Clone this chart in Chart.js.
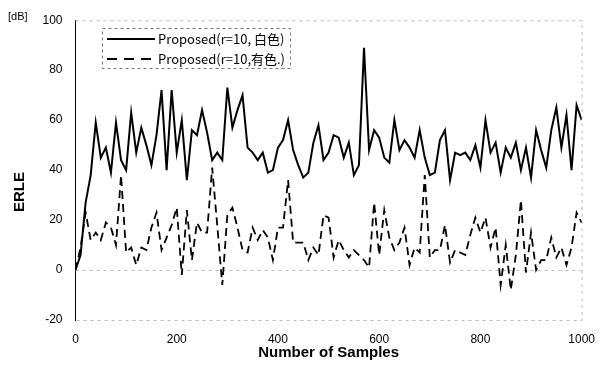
<!DOCTYPE html>
<html>
<head>
<meta charset="utf-8">
<script src="https://cdn.jsdelivr.net/npm/chart.js@4.4.1/dist/chart.umd.min.js"></script>
<style>
  body { margin: 0; background: #fff; }
  .wrap { width: 607px; height: 371px; }
</style>
</head>
<body>
<div class="wrap"><canvas id="erle"></canvas></div>
<script>
const samples = [0, 10, 20, 30, 40, 50, 60, 70, 80, 90,
  100, 110, 120, 130, 140, 150, 160, 170, 180, 190,
  200, 210, 220, 230, 240, 250, 260, 270, 280, 290,
  300, 310, 320, 330, 340, 350, 360, 370, 380, 390,
  400, 410, 420, 430, 440, 450, 460, 470, 480, 490,
  500, 510, 520, 530, 540, 550, 560, 570, 580, 590,
  600, 610, 620, 630, 640, 650, 660, 670, 680, 690,
  700, 710, 720, 730, 740, 750, 760, 770, 780, 790,
  800, 810, 820, 830, 840, 850, 860, 870, 880, 890,
  900, 910, 920, 930, 940, 950, 960, 970, 980, 990,
  1000];

const whiteNoise = [0, 6, 27, 38, 59, 45, 49, 39, 59, 44,
  40, 63, 47, 57, 50, 42, 54, 72, 40, 72,
  47, 60, 36, 56, 54, 64, 55, 44, 47, 44,
  73, 57, 64, 70, 49, 47, 44, 47, 39, 40,
  49, 52, 60, 48, 42, 37, 39, 51, 58, 44,
  47, 54, 53, 45, 51, 38, 42, 89, 48, 56,
  53, 45, 43, 60, 48, 52, 49, 45, 56, 45,
  38, 39, 52, 56, 36, 47, 46, 47, 44, 50,
  41, 60, 47, 51, 39, 49, 45, 51, 40, 49,
  37, 56, 48, 41, 56, 65, 49, 62, 40, 66,
  60];

const colouredNoise = [0, 9, 23, 12, 15, 12, 19, 17, 10, 38,
  7, 9, 2, 9, 8, 17, 23, 8, 13, 18,
  25, -2, 24, 4, 19, 15, 15, 41, 18, -6,
  22, 25, 17, 8, 7, 17, 12, 16, 13, 4,
  17, 17, 36, 11, 11, 11, 4, 9, 6, 22,
  21, 5, 12, 8, 5, 8, 6, 4, 1, 27,
  6, 24, 13, 8, 11, 17, 2, 9, 7, 38,
  5, 8, 8, 18, 3, 8, 7, 6, 14, 21,
  15, 21, 9, 17, -6, 10, -8, 6, 28, -1,
  15, 0, 4, 4, 13, 5, 9, 2, 9, 23,
  19];

const seriesNames = ['Proposed(r=10, 白色)', 'Proposed(r=10,有色.)'];
const xTicks = [0, 200, 400, 600, 800, 1000];
const yTicks = [-20, 0, 20, 40, 60, 80, 100];

function toPoints(values) {
  const pts = [];
  for (let i = 0; i < values.length; i++) {
    pts.push({ x: samples[i], y: values[i] });
  }
  return pts;
}

// kader, nul-lijn, legenda en losse teksten
const extras = {
  id: 'extras',
  beforeDatasetsDraw(chart) {
    const ctx = chart.ctx;
    const a = chart.chartArea;
    const y0 = chart.scales.y.getPixelForValue(0);
    ctx.save();
    ctx.strokeStyle = '#bdbdbd';
    ctx.lineWidth = 1;
    ctx.setLineDash([3, 4]);
    ctx.beginPath();
    ctx.moveTo(a.left, Math.round(y0) + 0.5);
    ctx.lineTo(a.right, Math.round(y0) + 0.5);
    ctx.moveTo(a.left, a.top + 0.5);
    ctx.lineTo(a.right + 0.5, a.top + 0.5);
    ctx.lineTo(a.right + 0.5, a.bottom + 0.5);
    ctx.lineTo(a.left, a.bottom + 0.5);
    ctx.stroke();
    ctx.restore();
  },
  afterDraw(chart) {
    const ctx = chart.ctx;
    ctx.save();
    // [dB]
    ctx.fillStyle = '#000';
    ctx.font = '11px "Liberation Sans", sans-serif';
    ctx.textAlign = 'left';
    ctx.textBaseline = 'middle';
    ctx.fillText('[dB]', 8, 17);
    // ERLE
    ctx.font = 'bold 15px "Liberation Sans", sans-serif';
    ctx.translate(20, 192);
    ctx.rotate(-Math.PI / 2);
    ctx.textAlign = 'center';
    ctx.fillText('ERLE', 0, 0);
    ctx.restore();

    // legenda
    ctx.save();
    ctx.fillStyle = '#fff';
    ctx.fillRect(102, 28, 188, 40);
    ctx.strokeStyle = '#777';
    ctx.lineWidth = 1;
    ctx.setLineDash([3, 3]);
    ctx.strokeRect(102.5, 28.5, 188, 40);
    const rows = [39, 59];
    chart.data.datasets.forEach((ds, i) => {
      ctx.strokeStyle = '#000';
      ctx.lineWidth = 2;
      ctx.setLineDash(i == 1 ? [10, 7] : []);
      ctx.beginPath();
      ctx.moveTo(107, rows[i]);
      ctx.lineTo(155, rows[i]);
      ctx.stroke();
      ctx.fillStyle = '#000';
      ctx.font = '13px "Noto Sans CJK JP", sans-serif';
      ctx.textAlign = 'left';
      ctx.textBaseline = 'middle';
      ctx.fillText(ds.label, 158, rows[i]);
    });
    ctx.restore();
  }
};

const erleChart = document.querySelector('#erle');

new Chart(erleChart, {
  type: 'line',
  data: {
    datasets: [
      {
        label: seriesNames[0],
        data: toPoints(whiteNoise),
        borderColor: '#000',
        borderWidth: 2,
        pointRadius: 0,
        tension: 0,
        fill: false
      },
      {
        label: seriesNames[1],
        data: toPoints(colouredNoise),
        borderColor: '#000',
        borderWidth: 1.8,
        borderDash: [8, 5],
        pointRadius: 0,
        tension: 0,
        fill: false
      }
    ]
  },
  options: {
    responsive: true,
    maintainAspectRatio: false,
    animation: false,
    layout: { padding: { top: 17, right: 23, bottom: 0, left: 0 } },
    plugins: {
      legend: { display: false },
      tooltip: { enabled: false }
    },
    scales: {
      x: {
        type: 'linear',
        min: 0,
        max: 1000,
        afterBuildTicks: (scale) => { scale.ticks = xTicks.map(v => ({ value: v })); },
        afterFit: (scale) => { scale.height = 51; },
        grid: { display: false, drawTicks: false },
        border: { display: false },
        ticks: {
          color: '#000',
          padding: 12,
          maxRotation: 0,
          callback: (v) => String(v),
          font: { family: '"Liberation Sans", sans-serif', size: 12 }
        },
        title: {
          display: true,
          text: 'Number of Samples',
          color: '#000',
          padding: { top: 0, bottom: 9 },
          font: { family: '"Liberation Sans", sans-serif', size: 15, weight: 'bold' }
        }
      },
      y: {
        min: -20,
        max: 100,
        afterBuildTicks: (scale) => { scale.ticks = yTicks.map(v => ({ value: v })); },
        afterFit: (scale) => { scale.width = 75.5; },
        grid: { display: false, drawTicks: false },
        border: { display: true, color: '#000', width: 1 },
        ticks: {
          color: '#000',
          padding: 13,
          callback: (v) => String(v),
          font: { family: '"Liberation Sans", sans-serif', size: 12 }
        }
      }
    }
  },
  plugins: [extras]
});
</script>
</body>
</html>
